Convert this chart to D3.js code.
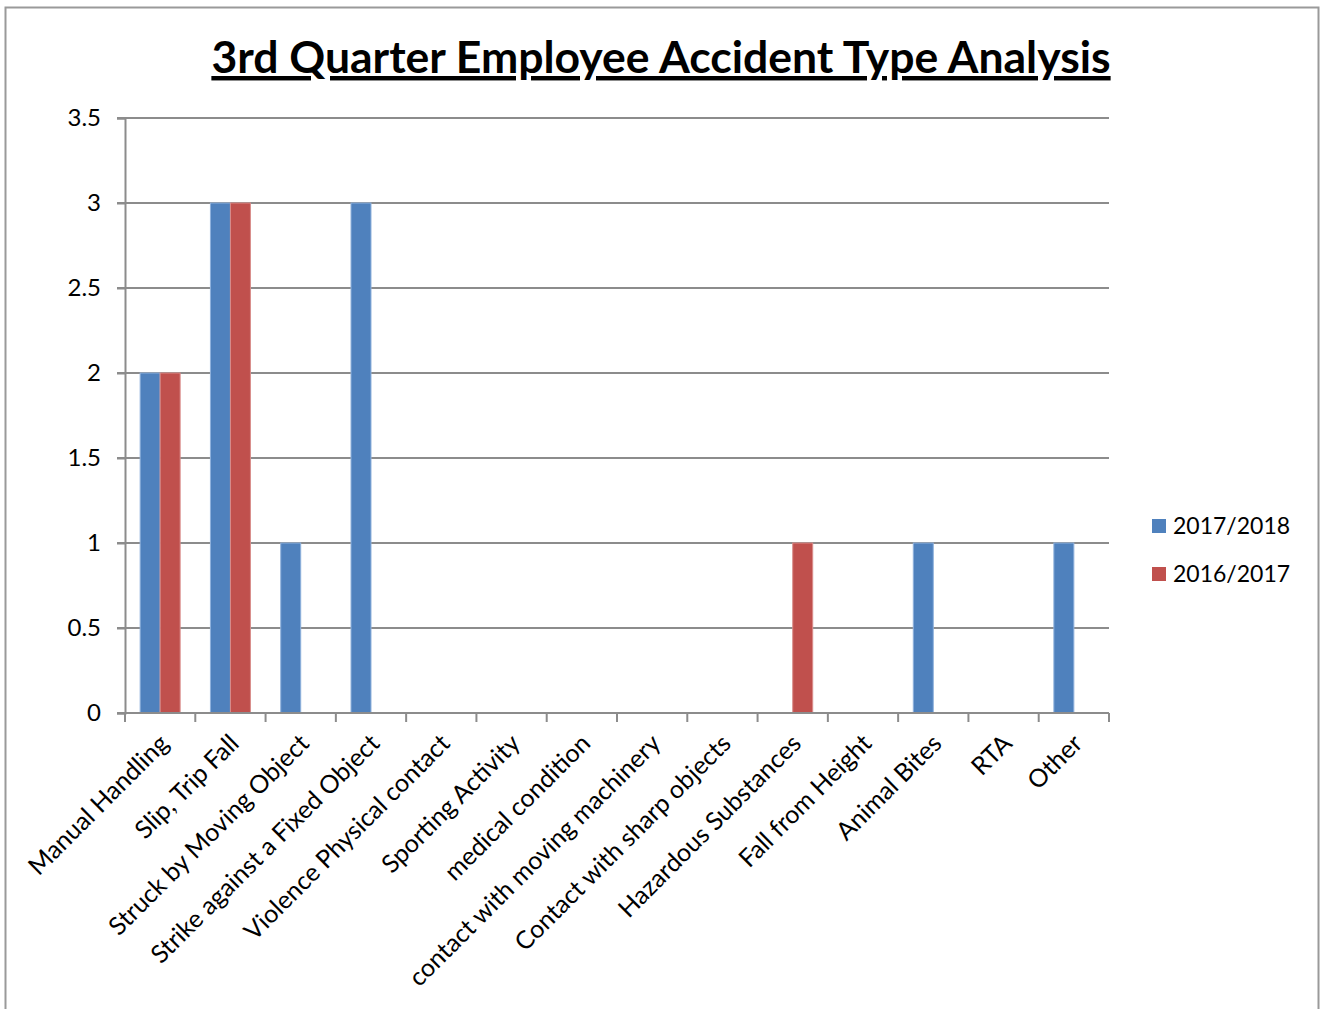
<!DOCTYPE html>
<html>
<head>
<meta charset="utf-8">
<script src="https://cdn.jsdelivr.net/npm/d3@7"></script>
<style>
  body { margin: 0; background: #fff; }
  text { font-family: Lato, "Open Sans", sans-serif; fill: #000; }
</style>
</head>
<body>
<div id="chart"></div>
<script>
var categories = ['Manual Handling', 'Slip, Trip Fall', 'Struck by Moving Object',
  'Strike against a Fixed Object', 'Violence Physical contact', 'Sporting Activity',
  'medical condition', 'contact with moving machinery', 'Contact with sharp objects',
  'Hazardous Substances', 'Fall from Height', 'Animal Bites', 'RTA', 'Other'];
var seriesNames = ['2017/2018', '2016/2017'];
var values2017 = [2, 3, 1, 3, 0, 0, 0, 0, 0, 0, 0, 1, 0, 1];
var values2016 = [2, 3, 0, 0, 0, 0, 0, 0, 0, 1, 0, 0, 0, 0];
var yTicks = [0, 0.5, 1, 1.5, 2, 2.5, 3, 3.5];
var colors = ['#4F81BD', '#C0504D'];
var strokes = ['#8FB1DC', '#D98C8A'];

var W = 1324, H = 1009;
var m = { left: 125, right: 215, top: 118, bottom: 296 };

var svg = d3.select('#chart').append('svg')
  .attr('width', W).attr('height', H);

// outer frame
svg.append('rect')
  .attr('x', 5.5).attr('y', 7.5)
  .attr('width', 1313).attr('height', 1100)
  .attr('fill', 'none').attr('stroke', '#9a9a9a').attr('stroke-width', 2);

// title
svg.append('text')
  .attr('x', 661).attr('y', 73)
  .attr('text-anchor', 'middle')
  .attr('font-size', 44.5).attr('font-weight', 'bold')
  .attr('text-decoration', 'underline')
  .text('3rd Quarter Employee Accident Type Analysis');

var x0 = d3.scaleBand().domain(categories)
  .range([m.left, W - m.right]).paddingInner(0.431).paddingOuter(0.2155);
var xCell = d3.scaleBand().domain(categories).range([m.left, W - m.right]);
var x1 = d3.scaleBand().domain(seriesNames).range([0, x0.bandwidth()]);
var y = d3.scaleLinear().domain([0, 3.5]).range([H - m.bottom, m.top]);

// gridlines
svg.append('g').selectAll('line').data(yTicks.slice(1)).enter().append('line')
  .attr('x1', m.left - 8).attr('x2', W - m.right)
  .attr('y1', d => y(d)).attr('y2', d => y(d))
  .attr('stroke', '#8c8c8c').attr('stroke-width', 2);

// bars
var rows = categories.map((c, i) => ({ cat: c, vals: [values2017[i], values2016[i]] }));
var groups = svg.append('g').selectAll('g').data(rows).enter().append('g')
  .attr('transform', d => 'translate(' + x0(d.cat) + ',0)');
groups.selectAll('rect')
  .data(d => d.vals.map((v, k) => ({ s: seriesNames[k], k: k, v: v })).filter(e => e.v > 0))
  .enter().append('rect')
  .attr('x', d => x1(d.s)).attr('width', x1.bandwidth())
  .attr('y', d => y(d.v)).attr('height', d => y(0) - y(d.v))
  .attr('fill', d => colors[d.k])
  .attr('stroke', d => strokes[d.k]).attr('stroke-width', 1);

// y axis
var yAxis = svg.append('g')
  .attr('transform', 'translate(' + m.left + ',0)')
  .call(d3.axisLeft(y).tickValues(yTicks).tickSize(8).tickPadding(16)
    .tickFormat(d => String(d)));
yAxis.select('.domain').attr('stroke', '#8c8c8c').attr('stroke-width', 2);
yAxis.selectAll('.tick line').attr('stroke', '#8c8c8c').attr('stroke-width', 2);
yAxis.selectAll('.tick text').attr('font-size', 24).attr('font-family', 'Lato, sans-serif');

// x axis
var xAxisG = svg.append('g').attr('transform', 'translate(0,' + y(0) + ')');
xAxisG.append('line')
  .attr('x1', m.left - 8).attr('x2', W - m.right)
  .attr('stroke', '#8c8c8c').attr('stroke-width', 2);
var bounds = categories.map(c => xCell(c)).concat([W - m.right]);
xAxisG.selectAll('line.tk').data(bounds).enter().append('line')
  .attr('class', 'tk')
  .attr('x1', d => d).attr('x2', d => d)
  .attr('y1', 0).attr('y2', 9)
  .attr('stroke', '#8c8c8c').attr('stroke-width', 2);
xAxisG.selectAll('text').data(categories).enter().append('text')
  .attr('transform', d => 'translate(' + (x0(d) + x0.bandwidth() / 2 + 10) + ',32) rotate(-45)')
  .attr('text-anchor', 'end')
  .attr('font-size', 25)
  .text(d => d);

// legend
var legend = svg.append('g').selectAll('g').data(seriesNames).enter().append('g')
  .attr('transform', (d, i) => 'translate(1152,' + (519 + i * 48) + ')');
legend.append('rect').attr('width', 14).attr('height', 14)
  .attr('fill', (d, i) => colors[i]);
legend.append('text').attr('x', 21).attr('y', 15)
  .attr('font-size', 23).text(d => d);
</script>
</body>
</html>
